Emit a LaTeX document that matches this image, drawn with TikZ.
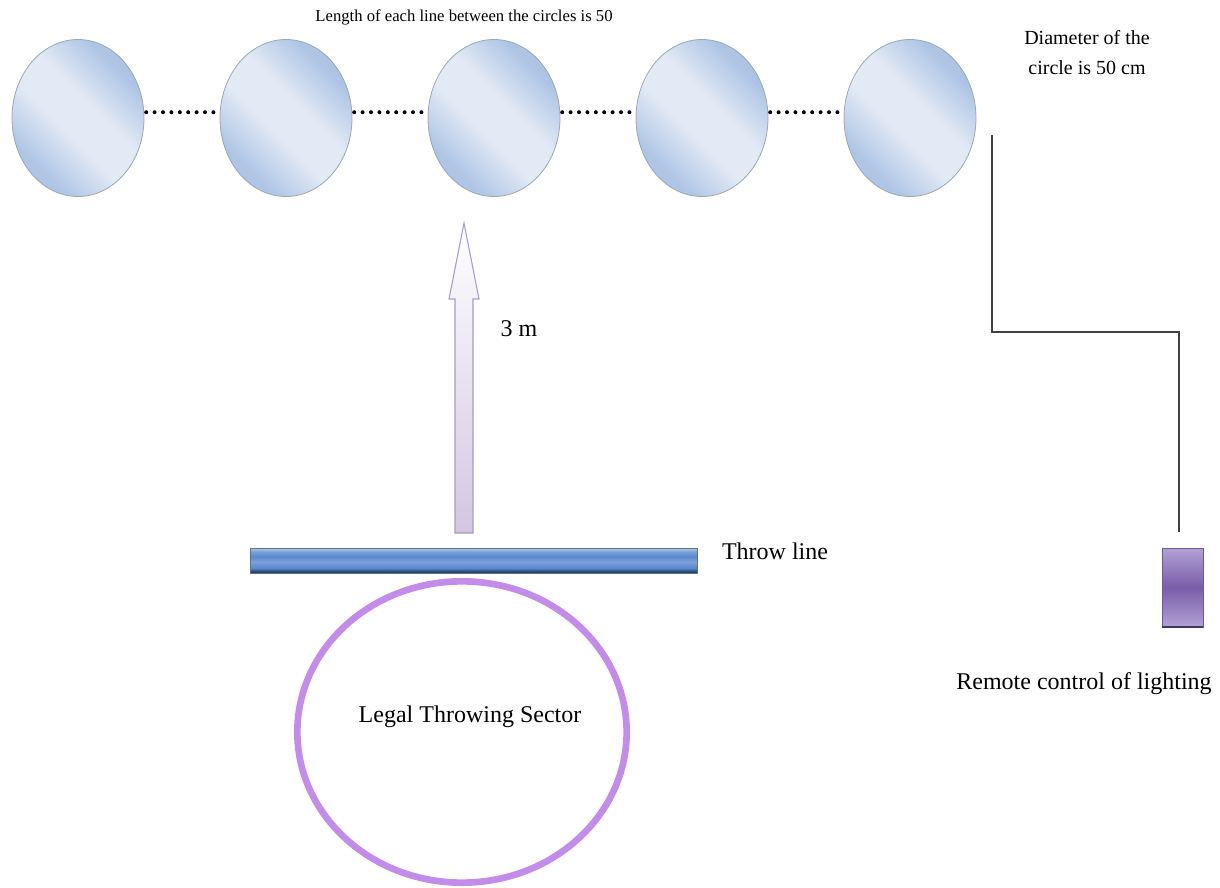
\documentclass[tikz,border=0pt]{standalone}
\usepackage{fontspec}
\setmainfont{Liberation Serif}
\usetikzlibrary{shapes.geometric,calc}
\definecolor{ballA}{HTML}{AFC5E5}
\definecolor{ballB}{HTML}{E2EAF5}
\definecolor{ballC}{HTML}{AEC4E4}
\definecolor{ballEdge}{HTML}{9AA6BA}
\definecolor{sector}{HTML}{C38CEB}
\definecolor{wire}{HTML}{404040}
\definecolor{arrowEdge}{HTML}{A89CC4}
\definecolor{arrowFill}{HTML}{D2C6E2}
\definecolor{barBot}{HTML}{1A3558}
\definecolor{barDk}{HTML}{2C4F80}
\definecolor{barMid}{HTML}{5A88CC}
\definecolor{barHi}{HTML}{7AA2DA}
\definecolor{barTop}{HTML}{B8CCE6}
\definecolor{remLight}{HTML}{B2A2D6}
\definecolor{remDark}{HTML}{7A5CA8}
\definecolor{remEdge}{HTML}{6A5A9A}
\pgfdeclarehorizontalshading{ballshade}{100bp}{color(0bp)=(ballA); color(28bp)=(ballA); color(44bp)=(ballB); color(56bp)=(ballB); color(72bp)=(ballC); color(100bp)=(ballC)}
\pgfdeclareverticalshading{barshade}{100bp}{color(0bp)=(barBot); color(25bp)=(barBot); color(29bp)=(barDk); color(35bp)=(barMid); color(48bp)=(barHi); color(58bp)=(barMid); color(68bp)=(barHi); color(75bp)=(barTop); color(100bp)=(barTop)}
\pgfdeclareverticalshading{remshade}{100bp}{color(0bp)=(remLight); color(25bp)=(remLight); color(50bp)=(remDark); color(75bp)=(remLight); color(100bp)=(remLight)}
\begin{document}
\begin{tikzpicture}[x=0.75pt,y=-0.75pt,
  ball/.style={ellipse, draw=ballEdge, line width=0.6pt, inner sep=0pt,
    minimum width=99pt, minimum height=117.75pt,
    shade, shading=ballshade, shading angle=45},
  dots/.style={line width=3pt, line cap=round, dash pattern=on 0pt off 6.3pt, black},
  lbl/.style={inner sep=0pt, text=black, font=\fontsize{18}{21}\selectfont},
  wireline/.style={draw=wire, line width=1.7pt}
]
\useasboundingbox (0,0) rectangle (1220,888);

% top circles
\node[ball] (e1) at (78,118) {};
\node[ball] (e2) at (286,118) {};
\node[ball] (e3) at (494,118) {};
\node[ball] (e4) at (702,118) {};
\node[ball] (e5) at (910,118) {};
\draw[dots] ([xshift=1.5pt]e1.5) -- ([xshift=-1.5pt]e2.175);
\draw[dots] ([xshift=1.5pt]e2.5) -- ([xshift=-1.5pt]e3.175);
\draw[dots] ([xshift=1.5pt]e3.5) -- ([xshift=-1.5pt]e4.175);
\draw[dots] ([xshift=1.5pt]e4.5) -- ([xshift=-1.5pt]e5.175);

\node[lbl, font=\fontsize{12.5}{15}\selectfont] (ttop) at (464,17) {Length of each line between the circles is 50};
\node[lbl, font=\fontsize{15}{18}\selectfont] (tdia1) at (1087,38) {Diameter of the};
\node[lbl, font=\fontsize{15}{18}\selectfont] (tdia2) at (1087,68) {circle is 50 cm};

% arrow
\draw[draw=arrowEdge, line width=0.8pt, top color=white, bottom color=arrowFill]
  (464,223) -- (479,299) -- (473,299) -- (473,533) -- (455,533) -- (455,299) -- (449,299) -- cycle;
\node[lbl] (t3m) at (519,329) {3 m};

% throw line
\node[rectangle, inner sep=0pt, minimum width=335.25pt, minimum height=18.75pt,
  draw=barBot!70, line width=0.4pt, shade, shading=barshade]
  (bar) at (473.5,560.5) {};
\node[lbl] (tthrow) at (775,551) {Throw line};

% legal throwing sector
\node[ellipse, draw=sector, line width=5pt, inner sep=0pt,
  minimum width=247pt, minimum height=226pt] (sec) at (462,732) {};
\node[lbl] (tsec) at (470,717) {Legal Throwing Sector};

% remote
\node[rectangle, inner sep=0pt, minimum width=30.75pt, minimum height=59.25pt,
  draw=remEdge, line width=0.5pt, shade, shading=remshade]
  (remote) at (1182.5,587.5) {};
\draw[remEdge!60!black, line width=1.5pt] (remote.south west) -- (remote.south east);
\node[lbl] (tremote) at (1084,684) {Remote control of lighting};

% wire
\coordinate (w0) at (992,135);
\coordinate (w1) at (992,332);
\coordinate (w2) at (1179,332);
\coordinate (w3) at (1179,532);
\draw[wireline] (w0) -- (w1) -- (w2) -- (w3);
\end{tikzpicture}
\end{document}
